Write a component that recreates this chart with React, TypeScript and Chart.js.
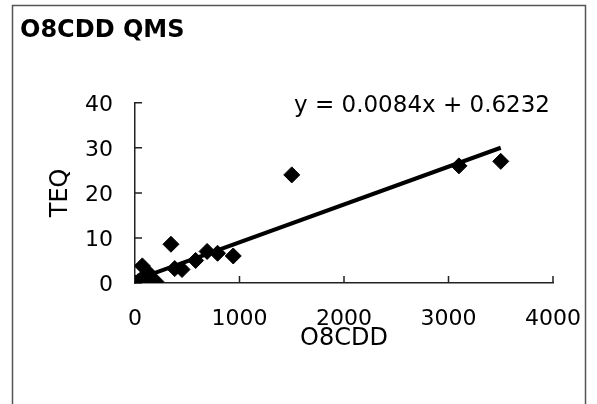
import React, { useEffect, useRef } from 'react';
import { Chart, registerables } from 'chart.js';

Chart.register(...registerables);

// ---- data ----
const chartTitle = 'O8CDD QMS';
const xAxisTitle = 'O8CDD';
const yAxisTitle = 'TEQ';
const equationText = 'y = 0.0084x + 0.6232';

const sampleX = [0, 50, 30, 60, 90, 70, 110, 130, 160, 200, 344, 380, 450, 580, 690, 790, 940, 1500, 3100, 3500];
const sampleY = [0, 0.1, 0.3, 0.8, 1.5, 3.8, 0.2, 2.2, 1.0, 0.3, 8.6, 3.2, 3.0, 5.0, 7.0, 6.6, 6.0, 24, 26, 27];

const trendX = [0, 3500];
const trendY = [0.6232, 30.0232];

const xTicks = [0, 1000, 2000, 3000, 4000];
const yTicks = [0, 10, 20, 30, 40];

const FONT = '"DejaVu Sans", "Liberation Sans", sans-serif';

const decorPlugin = {
  id: 'decor',
  beforeDraw(chart: any) {
    const ctx = chart.ctx;
    ctx.save();
    ctx.fillStyle = '#ffffff';
    ctx.fillRect(0, 0, chart.width, chart.height);
    ctx.strokeStyle = '#555555';
    ctx.lineWidth = 1.5;
    ctx.strokeRect(12.5, 5.5, 573, 440);
    ctx.restore();
  },
  beforeDatasetsDraw(chart: any) {
    const { ctx, chartArea, scales } = chart;
    const xs = scales.x;
    const ys = scales.y;
    ctx.save();
    ctx.strokeStyle = '#222222';
    ctx.lineWidth = 1.5;
    ctx.beginPath();
    for (const v of xTicks) {
      const px = xs.getPixelForValue(v);
      ctx.moveTo(px, chartArea.bottom);
      ctx.lineTo(px, chartArea.bottom - 7);
    }
    for (const v of yTicks) {
      const py = ys.getPixelForValue(v);
      ctx.moveTo(chartArea.left, py);
      ctx.lineTo(chartArea.left + 7, py);
    }
    ctx.stroke();
    ctx.restore();
  },
  afterDraw(chart: any) {
    const { ctx, chartArea } = chart;
    ctx.save();
    ctx.font = `23px ${FONT}`;
    ctx.fillStyle = '#000000';
    ctx.textAlign = 'right';
    ctx.textBaseline = 'alphabetic';
    ctx.fillText(equationText, chartArea.right - 3, chartArea.top + 9);
    ctx.restore();
  },
};

export default function App() {
  const canvasRef = useRef<HTMLCanvasElement | null>(null);

  useEffect(() => {
    if (!canvasRef.current) return;
    const chart = new Chart(canvasRef.current, {
      type: 'scatter',
      data: {
        datasets: [
          {
            label: 'trend',
            data: trendX.map((x, i) => ({ x, y: trendY[i] })),
            showLine: true,
            borderColor: '#000000',
            borderWidth: 4,
            pointRadius: 0,
            fill: false,
          },
          {
            label: 'TEQ',
            data: sampleX.map((x, i) => ({ x, y: sampleY[i] })),
            pointStyle: 'rectRot',
            pointRadius: 8,
            backgroundColor: '#000000',
            borderColor: '#000000',
            borderWidth: 1,
          },
        ],
      },
      options: {
        responsive: false,
        animation: false,
        devicePixelRatio: 1,
        layout: { padding: { left: 20, right: 44, top: 0, bottom: 0 } },
        plugins: {
          legend: { display: false },
          tooltip: { enabled: false },
          title: {
            display: true,
            text: chartTitle,
            align: 'start',
            color: '#000000',
            font: { family: FONT, size: 24, weight: 'bold' },
            padding: { top: 16, bottom: 58 },
          },
        },
        scales: {
          x: {
            type: 'linear',
            min: 0,
            max: 4000,
            afterFit(scale: any) {
              scale.height = 121;
              scale.paddingLeft = 0;
              scale.paddingRight = 0;
            },
            ticks: {
              stepSize: 1000,
              color: '#000000',
              font: { family: FONT, size: 22 },
              padding: 23,
              maxRotation: 0,
              callback: (v: any) => String(v),
            },
            grid: { display: false, drawTicks: false },
            border: { display: true, color: '#222222', width: 1.5 },
            title: {
              display: true,
              text: xAxisTitle,
              color: '#000000',
              font: { family: FONT, size: 24 },
              padding: { top: 0, bottom: 51 },
            },
          },
          y: {
            type: 'linear',
            min: 0,
            max: 40,
            afterFit(scale: any) {
              scale.width = 115;
              scale.paddingTop = 0;
              scale.paddingBottom = 0;
            },
            ticks: {
              stepSize: 10,
              color: '#000000',
              font: { family: FONT, size: 22 },
              padding: 22,
              labelOffset: 2,
              callback: (v: any) => String(v),
            },
            grid: { display: false, drawTicks: false },
            border: { display: true, color: '#222222', width: 1.5 },
            title: {
              display: true,
              text: yAxisTitle,
              color: '#000000',
              font: { family: FONT, size: 24 },
              padding: { top: 26, bottom: 0 },
            },
          },
        },
      },
      plugins: [decorPlugin],
    } as any);
    return () => chart.destroy();
  }, []);

  return (
    <div style={{ position: 'fixed', left: 0, top: 0, width: 597, height: 404, background: '#ffffff' }}>
      <canvas ref={canvasRef} width={597} height={404} />
    </div>
  );
}
